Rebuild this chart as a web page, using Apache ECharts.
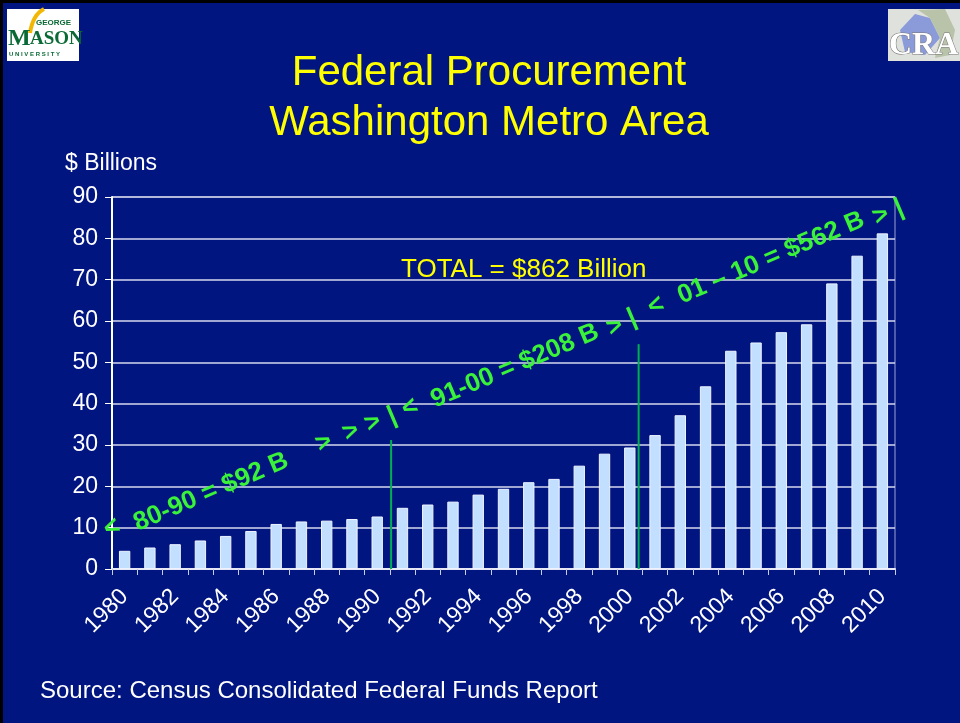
<!DOCTYPE html>
<html>
<head>
<meta charset="utf-8">
<title>Federal Procurement Washington Metro Area</title>
<script src="https://cdn.jsdelivr.net/npm/echarts@6/dist/echarts.min.js"></script>
<style>
  html, body {margin: 0; padding: 0; background: #011580;}
  #main {width: 960px; height: 723px;}
</style>
</head>
<body>
<div id="main"></div>
<script>
// data
var years = ['1980','1981','1982','1983','1984','1985','1986','1987','1988','1989','1990',
  '1991','1992','1993','1994','1995','1996','1997','1998','1999','2000',
  '2001','2002','2003','2004','2005','2006','2007','2008','2009','2010'];
var procurement = [4.4, 5.2, 6.0, 6.9, 8.0, 9.2, 10.9, 11.5, 11.7, 12.1, 12.7,
  14.8, 15.6, 16.3, 18.0, 19.4, 21.0, 21.8, 25.0, 27.9, 29.4,
  32.4, 37.2, 44.2, 52.8, 54.8, 57.3, 59.2, 69.1, 75.8, 81.2];
var yTicks = [0, 10, 20, 30, 40, 50, 60, 70, 80, 90];
// green decade dividers: [year position, top value]
var dividers = [[1990.55, 31.2], [2000.35, 54.4]];

var fontFamily = '"Liberation Sans", Arial, sans-serif';
var green = '#3af23a';

var chart = echarts.init(document.getElementById('main'));

// rotated decade annotation, placed in pieces along the diagonal
var rot = 23 * Math.PI / 180;
var pieces = [
  ['<', 112, 528], ['80-90 = $92 B', 211, 492],
  ['>', 324, 443], ['>', 351, 432], ['>', 373, 423], ['|', 392, 416],
  ['<', 410, 408], ['91-00 = $208 B', 515, 366], ['>', 615, 327],
  ['|', 632, 318], ['<', 656, 306], ['01 \u2013 10 = $562 B', 771, 258],
  ['>', 881, 216], ['|', 899, 208]
];
var noteGraphics = pieces.map(function (p) {
  return {
    type: 'text', x: p[1], y: p[2], rotation: rot, z: 10,
    style: {
      text: p[0], fill: green, align: 'center', verticalAlign: 'middle',
      font: 'bold 26px ' + fontFamily
    }
  };
});

var logoGraphics = [
  // top frame
  {type: 'rect', shape: {x: 0, y: 0, width: 960, height: 3}, style: {fill: '#000'}},
  {type: 'rect', shape: {x: 0, y: 0, width: 3, height: 723}, style: {fill: '#000'}},
  // George Mason logo
  {type: 'rect', shape: {x: 7, y: 9, width: 72, height: 52}, style: {fill: '#fff'}},
  {type: 'bezierCurve', shape: {x1: 30, y1: 33, x2: 44, y2: 9, cpx1: 32, cpy1: 20, cpx2: 38, cpy2: 12},
    style: {stroke: '#f2b705', lineWidth: 4, fill: null}},
  {type: 'text', x: 36, y: 19, style: {text: 'GEORGE', fill: '#0a6a35', font: 'bold 8px ' + fontFamily}},
  {type: 'text', x: 8, y: 27, style: {text: 'M', fill: '#0a6a35', font: 'bold 24px "Liberation Serif", serif'}},
  {type: 'text', x: 30, y: 30, style: {text: 'ASON', fill: '#0a6a35', font: 'bold 19px "Liberation Serif", serif'}},
  {type: 'text', x: 9, y: 51, style: {text: 'U N I V E R S I T Y', fill: '#0a6a35', font: 'bold 6px ' + fontFamily}},
  // CRA logo
  {type: 'rect', shape: {x: 888, y: 9, width: 72, height: 52}, style: {fill: '#dfe2dc'}},
  {type: 'polygon', shape: {points: [[900, 30], [915, 14], [930, 18], [940, 38], [925, 55], [905, 52]]},
    style: {fill: '#8b9ad8'}},
  {type: 'polygon', shape: {points: [[918, 10], [945, 9], [955, 30], [950, 55], [935, 58], [940, 38], [930, 18]]},
    style: {fill: '#b9c3a9'}},
  {type: 'text', x: 889, y: 30, style: {text: 'CRA', fill: '#fff', stroke: '#777', lineWidth: 1,
    font: 'bold 32px "Liberation Serif", serif'}}
];

var textGraphics = [
  {type: 'text', x: 489, y: 73, style: {text: 'Federal Procurement', fill: '#ffff00', align: 'center',
    verticalAlign: 'middle', font: '42px ' + fontFamily}},
  {type: 'text', x: 489, y: 123, style: {text: 'Washington Metro Area', fill: '#ffff00', align: 'center',
    verticalAlign: 'middle', font: '42px ' + fontFamily}},
  {type: 'text', x: 65, y: 164, style: {text: '$ Billions', fill: '#fff', verticalAlign: 'middle',
    font: '23px ' + fontFamily}},
  {type: 'text', x: 401, y: 270, style: {text: 'TOTAL = $862 Billion', fill: '#ffff00', verticalAlign: 'middle',
    font: '26px ' + fontFamily}},
  {type: 'text', x: 40, y: 691, style: {text: 'Source: Census Consolidated Federal Funds Report', fill: '#fff',
    verticalAlign: 'middle', font: '24px ' + fontFamily}}
];

var dividerSeries = dividers.map(function (d) {
  return {
    type: 'line', xAxisIndex: 1, symbol: 'none', silent: true, z: 5,
    lineStyle: {color: '#00b050', width: 2},
    data: [[d[0], 0], [d[0], d[1]]]
  };
});

chart.setOption({
  backgroundColor: '#011580',
  animation: false,
  textStyle: {fontFamily: fontFamily},
  grid: {left: 112, right: 65, top: 197, bottom: 154, show: true, borderColor: '#9aa2d0', borderWidth: 1},
  xAxis: [{
    type: 'category',
    data: years,
    axisLine: {lineStyle: {color: '#e8e8f4', width: 2}},
    axisTick: {show: true, interval: 0, length: 6, lineStyle: {color: '#c8cce6'}},
    axisLabel: {interval: 1, rotate: 45, color: '#fff', fontSize: 23, margin: 24}
  }, {
    type: 'value', min: 1979.5, max: 2010.5, show: false
  }],
  yAxis: {
    type: 'value',
    min: yTicks[0], max: yTicks[yTicks.length - 1], interval: 10,
    axisLine: {show: true, lineStyle: {color: '#fff', width: 2}},
    axisTick: {show: true, length: 7, lineStyle: {color: '#fff'}},
    axisLabel: {color: '#fff', fontSize: 23, margin: 14},
    splitLine: {lineStyle: {color: '#d4d8ee', width: 1.5}}
  },
  series: [{
    type: 'bar',
    data: procurement,
    barWidth: '45%',
    itemStyle: {color: '#c2dfff', borderColor: '#eef4ff', borderWidth: 1},
    z: 3
  }].concat(dividerSeries),
  graphic: logoGraphics.concat(textGraphics, noteGraphics)
});

window.onresize = chart.resize;
</script>
</body>
</html>
